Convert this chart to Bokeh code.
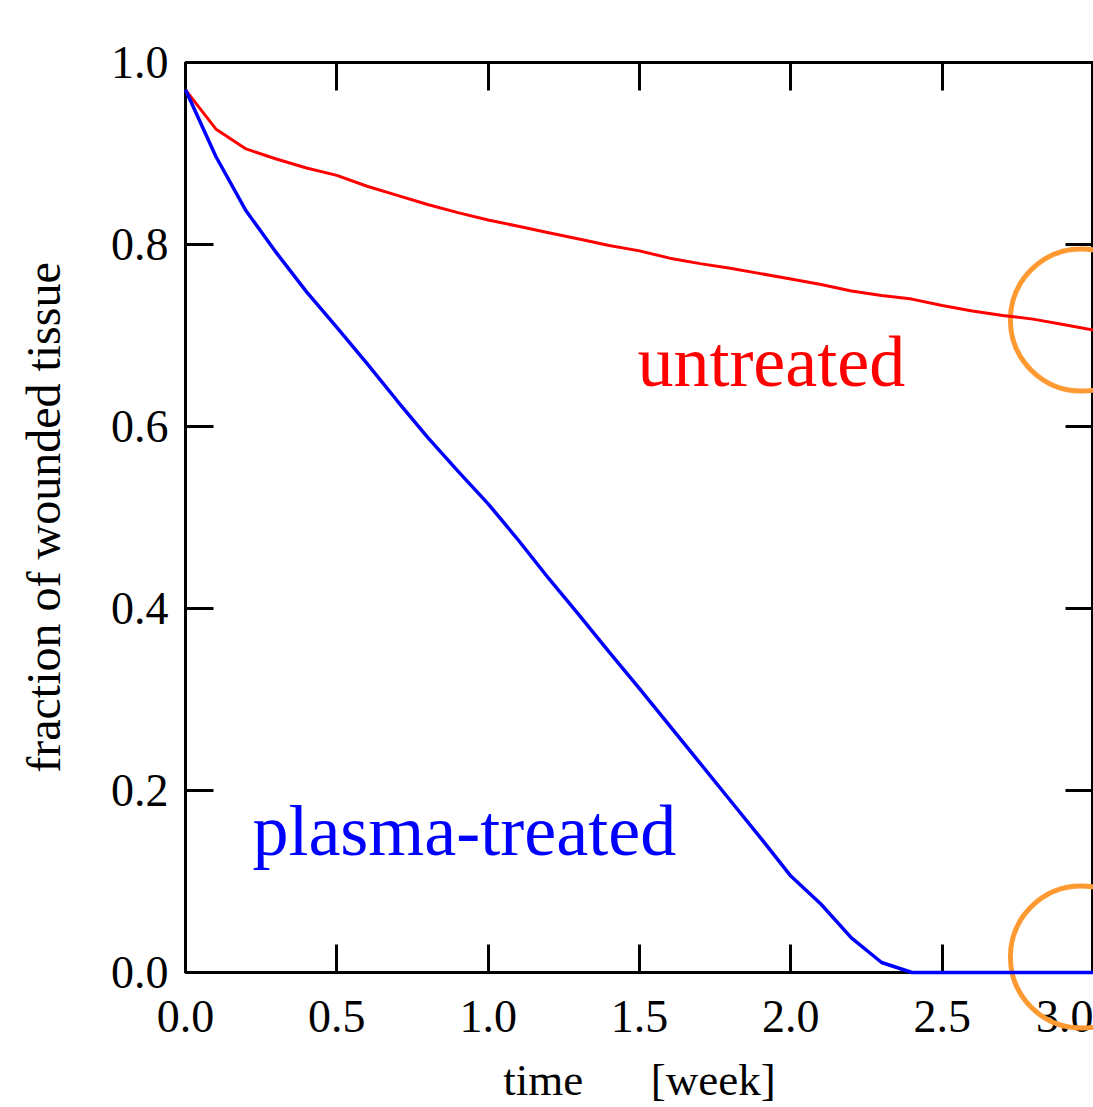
from bokeh.plotting import figure
from bokeh.models import Range1d, LinearAxis, FixedTicker, PrintfTickFormatter, Label
from bokeh.embed import file_html
from bokeh.resources import INLINE

# ---- data ----
time_week = [0.0, 0.1, 0.2, 0.3, 0.4, 0.5, 0.6, 0.7, 0.8, 0.9, 1.0,
             1.1, 1.2, 1.3, 1.4, 1.5, 1.6, 1.7, 1.8, 1.9, 2.0,
             2.1, 2.2, 2.3, 2.4, 2.5, 2.6, 2.7, 2.8, 2.9, 3.0]
untreated = [0.970, 0.927, 0.905, 0.894, 0.884, 0.876, 0.864, 0.854, 0.844, 0.835, 0.827,
             0.820, 0.813, 0.806, 0.799, 0.793, 0.785, 0.779, 0.774, 0.768, 0.762,
             0.756, 0.749, 0.744, 0.740, 0.733, 0.727, 0.722, 0.718, 0.712, 0.706]
plasma_treated = [0.970, 0.897, 0.837, 0.791, 0.748, 0.709, 0.669, 0.628, 0.588, 0.551, 0.515,
                  0.475, 0.433, 0.393, 0.352, 0.312, 0.271, 0.230, 0.189, 0.148, 0.106,
                  0.075, 0.038, 0.011, 0.000, 0.000, 0.000, 0.000, 0.000, 0.000, 0.000]
x_ticks = [0.0, 0.5, 1.0, 1.5, 2.0, 2.5, 3.0]
y_ticks = [0.0, 0.2, 0.4, 0.6, 0.8, 1.0]
highlight_x = [2.96, 2.96]
highlight_y = [0.717, 0.017]

FONT = "Liberation Serif"

p = figure(width=1093, height=1107, x_range=Range1d(0, 3), y_range=Range1d(0, 1),
           output_backend="svg", toolbar_location=None,
           min_border_left=185, min_border_top=62, min_border_right=0, min_border_bottom=135,
           x_axis_label="time\u00a0\u00a0\u00a0\u00a0\u00a0\u00a0[week]",
           y_axis_label="fraction of wounded tissue")
p.grid.visible = False
p.outline_line_color = "black"
p.outline_line_width = 3
p.background_fill_color = "white"
p.border_fill_color = "white"

def style_axis(ax, ticks, labels=True):
    ax.ticker = FixedTicker(ticks=ticks)
    ax.formatter = PrintfTickFormatter(format="%.1f")
    ax.axis_line_width = 3
    ax.axis_line_color = "black"
    ax.major_tick_line_width = 3
    ax.major_tick_line_color = "black"
    ax.major_tick_in = 28
    ax.major_tick_out = 0
    ax.minor_tick_line_color = None
    if labels:
        ax.major_label_text_font = FONT
        ax.major_label_text_font_size = "46px"
        ax.major_label_text_color = "black"
        ax.axis_label_text_font = FONT
        ax.axis_label_text_font_style = "normal"
        ax.axis_label_text_color = "black"
    else:
        ax.major_label_text_font_size = "1px"
        ax.major_label_text_color = None
        ax.major_label_text_alpha = 0
        ax.major_label_standoff = 0

style_axis(p.xaxis[0], x_ticks)
p.xaxis[0].major_label_standoff = 28
p.xaxis[0].axis_label_text_font_size = "45px"
p.xaxis[0].axis_label_standoff = 20

style_axis(p.yaxis[0], y_ticks)
p.yaxis[0].major_label_standoff = 17
p.yaxis[0].axis_label_text_font_size = "48px"
p.yaxis[0].axis_label_standoff = 38

top_axis = LinearAxis()
style_axis(top_axis, x_ticks, labels=False)
p.add_layout(top_axis, "above")
right_axis = LinearAxis()
style_axis(right_axis, y_ticks, labels=False)
p.add_layout(right_axis, "right")

p.scatter(highlight_x, highlight_y, marker="circle", size=142, fill_color=None,
          line_color="#FF9A33", line_width=5, level="overlay")
p.line(time_week, untreated, line_color="#FF0000", line_width=3, level="overlay")
p.line(time_week, plasma_treated, line_color="#0000FF", line_width=3.5, level="overlay")

p.add_layout(Label(x=1.493, y=0.671, text="untreated", text_color="#FF0000",
                   text_font=FONT, text_font_size="72px", text_baseline="alphabetic"))
p.add_layout(Label(x=0.221, y=0.156, text="plasma-treated", text_color="#0000FF",
                   text_font=FONT, text_font_size="72px", text_baseline="alphabetic"))

open("out.html", "w").write(file_html(p, INLINE))
